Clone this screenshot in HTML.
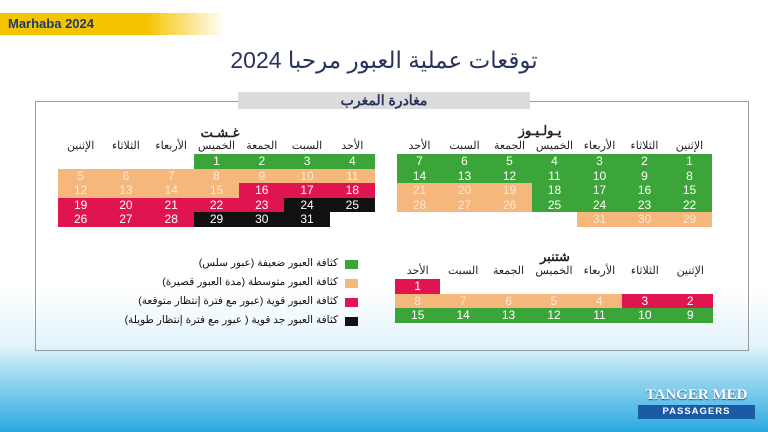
<!DOCTYPE html>
<html><head><meta charset="utf-8"><style>
*{margin:0;padding:0;box-sizing:border-box}
body{width:768px;height:432px;overflow:hidden;position:relative;font-family:"Liberation Sans","Noto Sans CJK SC",sans-serif;background:linear-gradient(to bottom,#fff 0px,#fff 290px,#e3f4fb 345px,#9fd9f0 375px,#29a9e0 432px)}
.abs{position:absolute}
.banner{left:0;top:13px;width:225px;height:22px;background:linear-gradient(to right,#f5c400 0%,#f5c400 65%,rgba(245,196,0,0) 100%);color:#1d3a6e;font-weight:bold;font-size:13px;line-height:22px;padding-left:8px}
.title{left:0;width:768px;top:45px;text-align:center;font-size:23px;color:#28335c;line-height:30px}
.frame{left:35px;top:101px;width:714px;height:250px;border:1px solid #9a9a9a}
.sub{left:238px;top:92px;width:292px;height:17px;background:#dcdcdc;text-align:center;font-weight:bold;font-size:14px;line-height:17px;color:#28335c}
.grid{display:grid;grid-template-columns:repeat(7,1fr)}
.grid div{height:14.6px;line-height:14.6px;text-align:center;font-size:12px;color:#fff}
.G{background:#3ca539}.O{background:#f5b77c;color:#fbe9d8!important}.R{background:#e0154f}.K{background:#111}
.hd{display:grid;grid-template-columns:repeat(7,1fr)}
.hd span{text-align:center;font-size:11px;color:#222;line-height:12px}
.mt{font-size:13px;font-weight:bold;color:#222}
.leg{font-size:10.5px;color:#111;text-align:right;width:220px;left:118px}
.sq{left:345px;width:13px;height:9px}
</style></head><body>
<div class="abs banner">Marhaba 2024</div>
<div class="abs title">توقعات عملية العبور مرحبا 2024</div>
<div class="abs frame"></div>
<div class="abs sub">مغادرة المغرب</div>

<!-- July -->
<div class="abs mt" style="left:505px;top:123px;width:70px;text-align:center">يـولـيـوز</div>
<div class="abs hd" style="left:397px;top:140px;width:315px"><span>الأحد</span><span>السبت</span><span>الجمعة</span><span>الخميس</span><span>الأربعاء</span><span>الثلاثاء</span><span>الإثنين</span></div>
<div class="abs grid" style="left:397px;top:154px;width:315px">
<div class="G">7</div><div class="G">6</div><div class="G">5</div><div class="G">4</div><div class="G">3</div><div class="G">2</div><div class="G">1</div>
<div class="G">14</div><div class="G">13</div><div class="G">12</div><div class="G">11</div><div class="G">10</div><div class="G">9</div><div class="G">8</div>
<div class="O">21</div><div class="O">20</div><div class="O">19</div><div class="G">18</div><div class="G">17</div><div class="G">16</div><div class="G">15</div>
<div class="O">28</div><div class="O">27</div><div class="O">26</div><div class="G">25</div><div class="G">24</div><div class="G">23</div><div class="G">22</div>
<div></div><div></div><div></div><div></div><div class="O">31</div><div class="O">30</div><div class="O">29</div>
</div>

<!-- August -->
<div class="abs mt" style="left:185px;top:125px;width:70px;text-align:center">غـشـت</div>
<div class="abs hd" style="left:58px;top:140px;width:317px"><span>الإثنين</span><span>الثلاثاء</span><span>الأربعاء</span><span>الخميس</span><span>الجمعة</span><span>السبت</span><span>الأحد</span></div>
<div class="abs grid" style="left:58px;top:154px;width:317px">
<div></div><div></div><div></div><div class="G">1</div><div class="G">2</div><div class="G">3</div><div class="G">4</div>
<div class="O">5</div><div class="O">6</div><div class="O">7</div><div class="O">8</div><div class="O">9</div><div class="O">10</div><div class="O">11</div>
<div class="O">12</div><div class="O">13</div><div class="O">14</div><div class="O">15</div><div class="R">16</div><div class="R">17</div><div class="R">18</div>
<div class="R">19</div><div class="R">20</div><div class="R">21</div><div class="R">22</div><div class="R">23</div><div class="K">24</div><div class="K">25</div>
<div class="R">26</div><div class="R">27</div><div class="R">28</div><div class="K">29</div><div class="K">30</div><div class="K">31</div><div></div>
</div>

<!-- September -->
<div class="abs mt" style="left:520px;top:249px;width:70px;text-align:center">شتنبر</div>
<div class="abs hd" style="left:395px;top:265px;width:318px"><span>الأحد</span><span>السبت</span><span>الجمعة</span><span>الخميس</span><span>الأربعاء</span><span>الثلاثاء</span><span>الإثنين</span></div>
<div class="abs grid" style="left:395px;top:279px;width:318px">
<div class="R">1</div><div></div><div></div><div></div><div></div><div></div><div></div>
<div class="O">8</div><div class="O">7</div><div class="O">6</div><div class="O">5</div><div class="O">4</div><div class="R">3</div><div class="R">2</div>
<div class="G">15</div><div class="G">14</div><div class="G">13</div><div class="G">12</div><div class="G">11</div><div class="G">10</div><div class="G">9</div>
</div>

<!-- Legend -->
<div class="abs sq G" style="top:260px"></div>
<div class="abs sq O" style="top:279px"></div>
<div class="abs sq R" style="top:298px"></div>
<div class="abs sq K" style="top:317px"></div>
<div class="abs leg" style="top:257px">كثافة العبور ضعيفة (عبور سلس)</div>
<div class="abs leg" style="top:276px">كثافة العبور متوسطة (مدة العبور قصيرة)</div>
<div class="abs leg" style="top:295px">كثافة العبور قوية (عبور مع فترة إنتظار متوقعة)</div>
<div class="abs leg" style="top:314px">كثافة العبور جد قوية ( عبور مع فترة إنتظار طويلة)</div>

<!-- Logo -->
<div class="abs" style="left:636px;top:386px;width:121px;text-align:center;font-family:'Liberation Serif',serif;font-weight:bold;font-size:15px;color:#fff;line-height:18px;text-shadow:0 1px 1px #1a4f8a">TANGER MED</div>
<div class="abs" style="left:638px;top:405px;width:117px;height:14px;background:#1a5aa6;color:#fff;font-weight:bold;font-size:9.5px;letter-spacing:1px;text-align:center;line-height:14px">PASSAGERS</div>
</body></html>
